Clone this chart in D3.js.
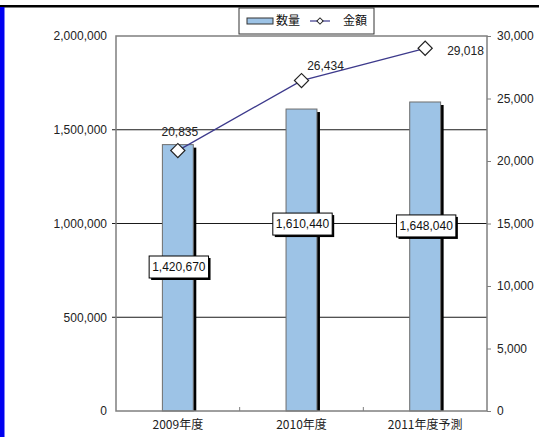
<!DOCTYPE html>
<html>
<head>
<meta charset="utf-8">
<script src="https://cdn.jsdelivr.net/npm/d3@7/dist/d3.min.js"></script>
<style>
  body { margin: 0; background: #fff; }
  text { font-family: "Liberation Sans", Arial, "Noto Sans CJK JP", sans-serif; }
  .jp { font-family: "Noto Sans CJK JP", "Liberation Sans", sans-serif; }
</style>
</head>
<body>
<svg id="chart" width="539" height="437"></svg>
<script>
// chart values
var categories = ["2009年度", "2010年度", "2011年度予測"];
var quantity = [1420670, 1610440, 1648040];   // 数量 (left axis, bars)
var amount = [20835, 26434, 29018];           // 金額 (right axis, line)
var leftTicks = [0, 500000, 1000000, 1500000, 2000000];
var rightTicks = [0, 5000, 10000, 15000, 20000, 25000, 30000];
var legendNames = ["数量", "金額"];

var svg = d3.select("#chart");
var W = 539, H = 437;
var plot = { left: 116, right: 487, top: 36, bottom: 411 };
var fmt = d3.format(",");

var barColor = "#9dc3e6";
var lineColor = "#3d3a8c";

// page frame: black top rule and blue strip on the left
svg.append("rect").attr("x", 0).attr("y", 5).attr("width", W).attr("height", 2.5).attr("fill", "#000");
svg.append("rect").attr("x", 0).attr("y", 7).attr("width", 4.5).attr("height", H - 7).attr("fill", "#0000f0");

var x = d3.scaleBand().domain(categories).range([plot.left, plot.right]).padding(0);
var yL = d3.scaleLinear().domain([0, 2000000]).range([plot.bottom, plot.top]);
var yR = d3.scaleLinear().domain([0, 30000]).range([plot.bottom, plot.top]);

// gridlines
svg.append("g")
    .selectAll("line")
    .data(leftTicks.filter(function (d) { return d > 0 && d < 2000000; }))
    .enter().append("line")
    .attr("x1", plot.left - 4).attr("x2", plot.right)
    .attr("y1", function (d) { return yL(d); })
    .attr("y2", function (d) { return yL(d); })
    .attr("stroke", "#1a1a1a").attr("stroke-width", 1);

// bars with shadow
var bw = x.bandwidth() * 0.25;
var bars = svg.append("g");
bars.selectAll("rect.shadow")
    .data(quantity)
    .enter().append("rect")
    .attr("class", "shadow")
    .attr("x", function (d, i) { return x(categories[i]) + x.bandwidth() / 2 - bw / 2 + 3; })
    .attr("y", function (d) { return yL(d) + 3; })
    .attr("width", bw)
    .attr("height", function (d) { return plot.bottom - yL(d) - 3; })
    .attr("fill", "#000");
bars.selectAll("rect.bar")
    .data(quantity)
    .enter().append("rect")
    .attr("class", "bar")
    .attr("x", function (d, i) { return x(categories[i]) + x.bandwidth() / 2 - bw / 2; })
    .attr("y", function (d) { return yL(d); })
    .attr("width", bw)
    .attr("height", function (d) { return plot.bottom - yL(d); })
    .attr("fill", barColor)
    .attr("stroke", "#6d6d6d").attr("stroke-width", 1);

// plot border
svg.append("rect")
    .attr("x", plot.left).attr("y", plot.top)
    .attr("width", plot.right - plot.left).attr("height", plot.bottom - plot.top)
    .attr("fill", "none").attr("stroke", "#7f7f7f").attr("stroke-width", 1.5);

// left axis
var axL = svg.append("g")
    .attr("transform", "translate(" + plot.left + ",0)")
    .call(d3.axisLeft(yL).tickValues(leftTicks).tickFormat(fmt).tickSize(0).tickPadding(9));
axL.select(".domain").remove();
axL.selectAll("text").attr("font-size", 12).attr("fill", "#222")
    .style("font-family", "'Liberation Sans', Arial, sans-serif");

// right axis
var axR = svg.append("g")
    .attr("transform", "translate(" + plot.right + ",0)")
    .call(d3.axisRight(yR).tickValues(rightTicks).tickFormat(fmt).tickSize(4).tickPadding(6));
axR.select(".domain").remove();
axR.selectAll("line").attr("stroke", "#7f7f7f");
axR.selectAll("text").attr("font-size", 12).attr("fill", "#222")
    .style("font-family", "'Liberation Sans', Arial, sans-serif");

// bottom axis: category labels and dividing ticks
var axB = svg.append("g")
    .attr("transform", "translate(0," + plot.bottom + ")")
    .call(d3.axisBottom(x).tickSize(0).tickPadding(9));
axB.select(".domain").remove();
axB.selectAll("text").attr("font-size", 12).attr("fill", "#222")
    .attr("class", "jp").style("font-family", "'Noto Sans CJK JP', sans-serif");
svg.append("g").selectAll("line")
    .data(categories.slice(1))
    .enter().append("line")
    .attr("x1", function (d) { return x(d); }).attr("x2", function (d) { return x(d); })
    .attr("y1", plot.bottom).attr("y2", plot.bottom - 4)
    .attr("stroke", "#7f7f7f");

// bar value labels (boxed, with shadow)
var barLabelAt = [768000, 997000, 987000];
var bl = svg.append("g").selectAll("g")
    .data(quantity)
    .enter().append("g")
    .attr("transform", function (d, i) {
        return "translate(" + (x(categories[i]) + x.bandwidth() / 2 + 1) + "," + yL(barLabelAt[i]) + ")";
    });
bl.each(function (d) {
    var g = d3.select(this);
    var sh = g.append("rect");
    var bx = g.append("rect");
    var t = g.append("text")
        .attr("text-anchor", "middle").attr("dy", "0.36em")
        .attr("font-size", 12).attr("fill", "#111")
        .text(fmt(d));
    var w = t.node().getComputedTextLength() + 6, h = 22;
    sh.attr("x", -w / 2 + 2).attr("y", -h / 2 + 2).attr("width", w).attr("height", h).attr("fill", "#000");
    bx.attr("x", -w / 2).attr("y", -h / 2).attr("width", w).attr("height", h)
        .attr("fill", "#fff").attr("stroke", "#000").attr("stroke-width", 1);
});

// amount line
var cx = function (d, i) { return x(categories[i]) + x.bandwidth() / 2; };
var line = d3.line().x(cx).y(function (d) { return yR(d); });
svg.append("path")
    .datum(amount)
    .attr("d", line)
    .attr("fill", "none").attr("stroke", lineColor).attr("stroke-width", 1.3);

var diamond = d3.symbol().type(d3.symbolSquare).size(100);
svg.append("g").selectAll("path")
    .data(amount)
    .enter().append("path")
    .attr("d", diamond)
    .attr("transform", function (d, i) { return "translate(" + cx(d, i) + "," + yR(d) + ") rotate(45)"; })
    .attr("fill", "#fff").attr("stroke", "#222").attr("stroke-width", 1.2);

// amount labels
var amtOffset = [[2, -19, "middle"], [24, -15, "middle"], [22, 2, "start"]];
svg.append("g").selectAll("text")
    .data(amount)
    .enter().append("text")
    .attr("x", function (d, i) { return cx(d, i) + amtOffset[i][0]; })
    .attr("y", function (d, i) { return yR(d) + amtOffset[i][1]; })
    .attr("dy", "0.36em")
    .attr("text-anchor", function (d, i) { return amtOffset[i][2]; })
    .attr("font-size", 12).attr("fill", "#222")
    .text(function (d) { return fmt(d); });

// legend
var lg = svg.append("g").attr("transform", "translate(239,8)");
lg.append("rect").attr("width", 135).attr("height", 26)
    .attr("fill", "#fff").attr("stroke", "#333").attr("stroke-width", 1);
lg.append("rect").attr("x", 8).attr("y", 10).attr("width", 26).attr("height", 6)
    .attr("fill", barColor).attr("stroke", "#333").attr("stroke-width", 1);
lg.append("text").attr("class", "jp").attr("x", 37).attr("y", 13).attr("dy", "0.36em")
    .attr("font-size", 12).attr("fill", "#111").text(legendNames[0]);
lg.append("line").attr("x1", 71).attr("x2", 91).attr("y1", 13).attr("y2", 13)
    .attr("stroke", lineColor).attr("stroke-width", 1.2);
lg.append("path").attr("d", d3.symbol().type(d3.symbolSquare).size(20))
    .attr("transform", "translate(81,13) rotate(45)")
    .attr("fill", "#fff").attr("stroke", "#222").attr("stroke-width", 1);
lg.append("text").attr("class", "jp").attr("x", 104).attr("y", 13).attr("dy", "0.36em")
    .attr("font-size", 12).attr("fill", "#111").text(legendNames[1]);
</script>
</body>
</html>
